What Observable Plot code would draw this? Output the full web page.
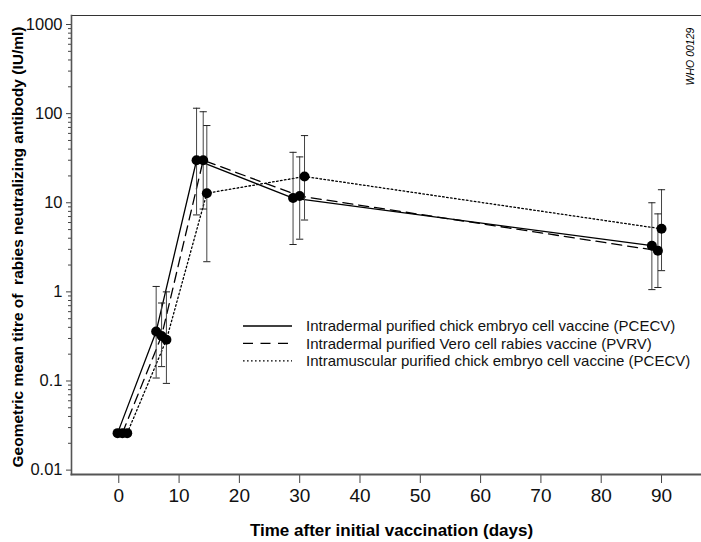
<!DOCTYPE html>
<html><head><meta charset="utf-8">
<script src="https://cdn.jsdelivr.net/npm/d3@7"></script>
<script src="https://cdn.jsdelivr.net/npm/@observablehq/plot@0.6"></script>
<style>
body{margin:0;background:#fff;font-family:"Liberation Sans",Arial,sans-serif;}
#wrap{position:relative;width:701px;height:542px;}
#legend{position:absolute;left:243px;top:316px;}
#legend svg{display:block;overflow:visible;}
</style></head><body><div id="wrap"><div id="chart"></div><div id="legend"></div></div>
<script>
// ---- data ----
const seriesNames = [
  "Intradermal purified chick embryo cell vaccine (PCECV)",
  "Intradermal purified Vero cell rabies vaccine (PVRV)",
  "Intramuscular purified chick embryo cell vaccine (PCECV)"
];
// plotted day positions (slightly staggered in the original figure)
const daysIdPcecv = [-0.2, 6.2, 12.9, 28.9, 88.4];
const daysIdPvrv  = [0.6, 7.1, 14.0, 30.0, 89.4];
const daysImPcecv = [1.4, 7.9, 14.6, 30.8, 90.0];
// geometric mean titres (IU/ml)
const gmtIdPcecv = [0.026, 0.36, 30, 11.3, 3.3];
const gmtIdPvrv  = [0.026, 0.32, 30, 11.9, 2.9];
const gmtImPcecv = [0.026, 0.29, 12.8, 19.7, 5.1];
// error bar limits
const lowIdPcecv  = [null, 0.108, 7.3, 3.4, 1.06];
const highIdPcecv = [null, 1.15, 115, 36.8, 10.0];
const lowIdPvrv   = [null, 0.145, 8.5, 3.9, 1.12];
const highIdPvrv  = [null, 0.75, 105, 32.7, 7.5];
const lowImPcecv  = [null, 0.094, 2.18, 6.4, 1.73];
const highImPcecv = [null, 1.0, 73.5, 56.7, 14.0];

const xTicks = [0, 10, 20, 30, 40, 50, 60, 70, 80, 90];
const yTicks = [0.01, 0.1, 1, 10, 100, 1000];
const yTickLabels = ["0.01", "0.1", "1", "10", "100", "1000"];

// ---- styles ----
const dashes = [null, "10,6", "1.6,2.4"];
const widths = [1.3, 1.3, 1.3];

const seriesData = [
  [daysIdPcecv, gmtIdPcecv, lowIdPcecv, highIdPcecv],
  [daysIdPvrv, gmtIdPvrv, lowIdPvrv, highIdPvrv],
  [daysImPcecv, gmtImPcecv, lowImPcecv, highImPcecv]
];
const rows = [];
seriesData.forEach(([d, g, lo, hi], s) => d.forEach((day, i) =>
  rows.push({series: seriesNames[s], s, day, gmt: g[i], lo: lo[i], hi: hi[i]})));
const bars = rows.filter(r => r.lo != null);

const minorTicks = [];
for (let e = -2; e < 3; e++) for (let m = 2; m <= 9; m++) minorTicks.push(m * Math.pow(10, e));

const capSymbol = {draw(ctx, size) { const r = Math.sqrt(size / Math.PI); ctx.moveTo(-r, 0); ctx.lineTo(r, 0); }};

const font = '"Liberation Sans", Arial, sans-serif';
const chart = Plot.plot({
  width: 701, height: 542,
  marginLeft: 71, marginRight: 0, marginTop: 15, marginBottom: 68,
  style: {fontFamily: font, color: "#111", background: "#fff"},
  x: {domain: [-7.84, 96.63]},
  y: {type: "log", domain: [0.00893, 1262]},
  marks: [
    Plot.frame({anchor: "top", stroke: "#333", strokeWidth: 1.2}),
    ...seriesNames.map((name, s) => Plot.line(rows.filter(r => r.s === s), {
      x: "day", y: "gmt", stroke: "#000", strokeWidth: widths[s],
      strokeDasharray: dashes[s] ?? undefined
    })),
    Plot.ruleX(bars, {x: "day", y1: "lo", y2: "hi", stroke: "#444", strokeWidth: 1}),
    Plot.dot(bars, {x: "day", y: "hi", symbol: capSymbol, r: 3.6, stroke: "#222", strokeWidth: 1, fill: "none"}),
    Plot.dot(bars, {x: "day", y: "lo", symbol: capSymbol, r: 3.6, stroke: "#222", strokeWidth: 1, fill: "none"}),
    Plot.dot(rows, {x: "day", y: "gmt", r: 5, fill: "#000", stroke: "none"}),
    Plot.axisY({ticks: minorTicks, tickSize: 3, text: null, stroke: "#444"}),
    Plot.axisY({ticks: yTicks, tickSize: 5, tickPadding: 4, fontSize: 16.5, stroke: "#444",
      tickFormat: v => yTickLabels[yTicks.indexOf(v)], label: null}),
    Plot.axisX({ticks: xTicks, tickSize: 9, tickPadding: 5, fontSize: 19, stroke: "#444", label: null}),
    Plot.frame({anchor: "left", stroke: "#555", strokeWidth: 1.6}),
    Plot.frame({anchor: "bottom", stroke: "#555", strokeWidth: 2}),
    Plot.text(["Time after initial vaccination (days)"], {frameAnchor: "bottom", lineAnchor: "bottom",
      dy: 61, dx: 5, fontWeight: "bold", fontSize: 17, fill: "#000"}),
    Plot.text(["Geometric mean titre of  rabies neutralizing antibody (IU/ml)"], {frameAnchor: "left",
      rotate: -90, dx: -53, dy: 2, textAnchor: "middle", lineAnchor: "middle", fontWeight: "bold", fontSize: 15.5, fill: "#000"}),
    Plot.text(["WHO 00129"], {frameAnchor: "top-right", rotate: -90, dx: -11, dy: 41,
      lineAnchor: "middle", textAnchor: "middle", fontStyle: "italic", fontSize: 10.5, fill: "#000"})
  ]
});
chart.querySelectorAll("text").forEach(t => t.style.whiteSpace = "pre");
document.getElementById("chart").append(chart);

// legend (inside plot area, as in the original)
const lg = d3.select("#legend").append("svg").attr("width", 440).attr("height", 56);
seriesNames.forEach((name, s) => {
  const y = 10 + s * 17.4;
  lg.append("line").attr("x1", 0).attr("x2", 49).attr("y1", y).attr("y2", y)
    .attr("stroke", "#000").attr("stroke-width", widths[s])
    .attr("stroke-dasharray", s === 1 ? "10,7.5" : dashes[s]);
  lg.append("text").attr("x", 63).attr("y", y).attr("dy", "0.36em")
    .attr("font-family", font).attr("font-size", 15).attr("fill", "#111").text(name);
});
</script></body></html>
